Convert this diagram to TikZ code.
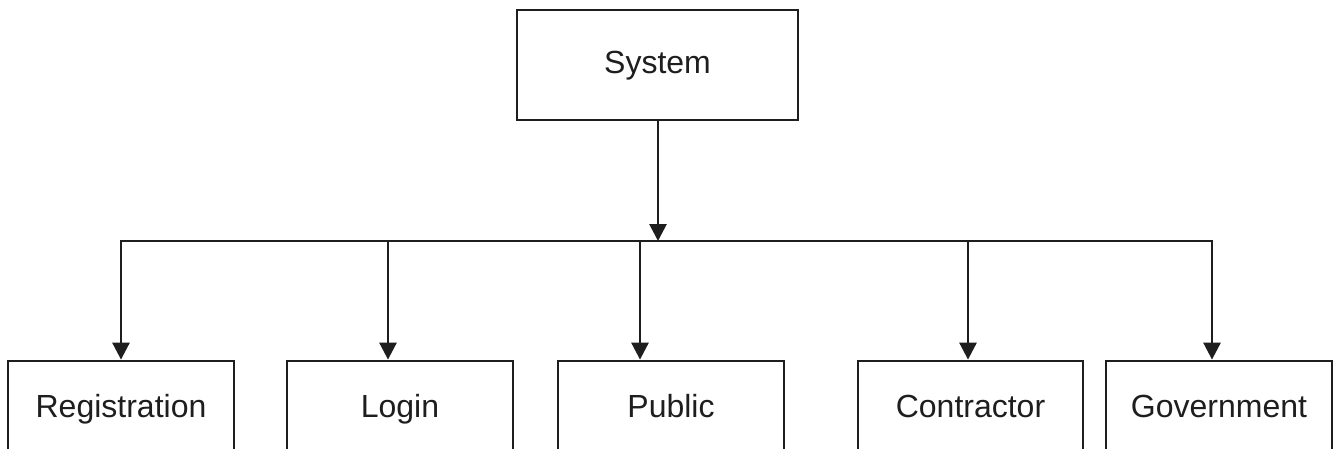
\documentclass[tikz,border=0pt]{standalone}
\usepackage{fontspec}
\setmainfont{Liberation Sans}
\usetikzlibrary{arrows.meta}
\definecolor{ink}{HTML}{1E1E1E}
\begin{document}
\begin{tikzpicture}[x=1pt,y=-1pt,
  box/.style={draw=ink, line width=2.8pt, rectangle, inner sep=0pt,
    font=\fontsize{32}{36}\selectfont, text=ink, text height=23pt, text depth=0pt},
  arr/.style={draw=ink, line width=2.8pt,
    -{Triangle[length=17pt,width=17pt]}},
  arrs/.style={draw=ink, line width=2.8pt,
    {Triangle[length=17pt,width=17pt]}-{Triangle[length=17pt,width=17pt]}}]
  % canvas
  \clip (0,0) rectangle (1338,448);
  \fill[white] (0,0) rectangle (1338,448);

  % root box
  \node[box, minimum width=281pt, minimum height=110pt, text depth=6pt] (sys) at (657.5,65) {System};

  % child boxes (their lower edge runs past the canvas)
  \node[box, minimum width=226pt, minimum height=89pt] (reg) at (121,405.5) {Registration};
  \node[box, minimum width=226pt, minimum height=89pt] (log) at (400,405.5) {Login};
  \node[box, minimum width=226pt, minimum height=89pt] (pub) at (671,405.5) {Public};
  \node[box, minimum width=225pt, minimum height=89pt] (con) at (970.5,405.5) {Contractor};
  \node[box, minimum width=226pt, minimum height=89pt] (gov) at (1219,405.5) {Government};

  % distribution bus
  \coordinate (b1) at (121,241);
  \coordinate (b2) at (388,241);
  \coordinate (b3) at (640,241);
  \coordinate (b4) at (968,241);
  \coordinate (b5) at (1212,241);
  \coordinate (bs) at (658,241);

  \draw[arr] (sys.south -| bs) -- (bs);
  \draw[arrs] (b1 |- reg.north) -- (b1) -- (b5) -- (b5 |- gov.north);
  \draw[arr] (b2) -- (b2 |- log.north);
  \draw[arr] (b3) -- (b3 |- pub.north);
  \draw[arr] (b4) -- (b4 |- con.north);
\end{tikzpicture}
\end{document}
